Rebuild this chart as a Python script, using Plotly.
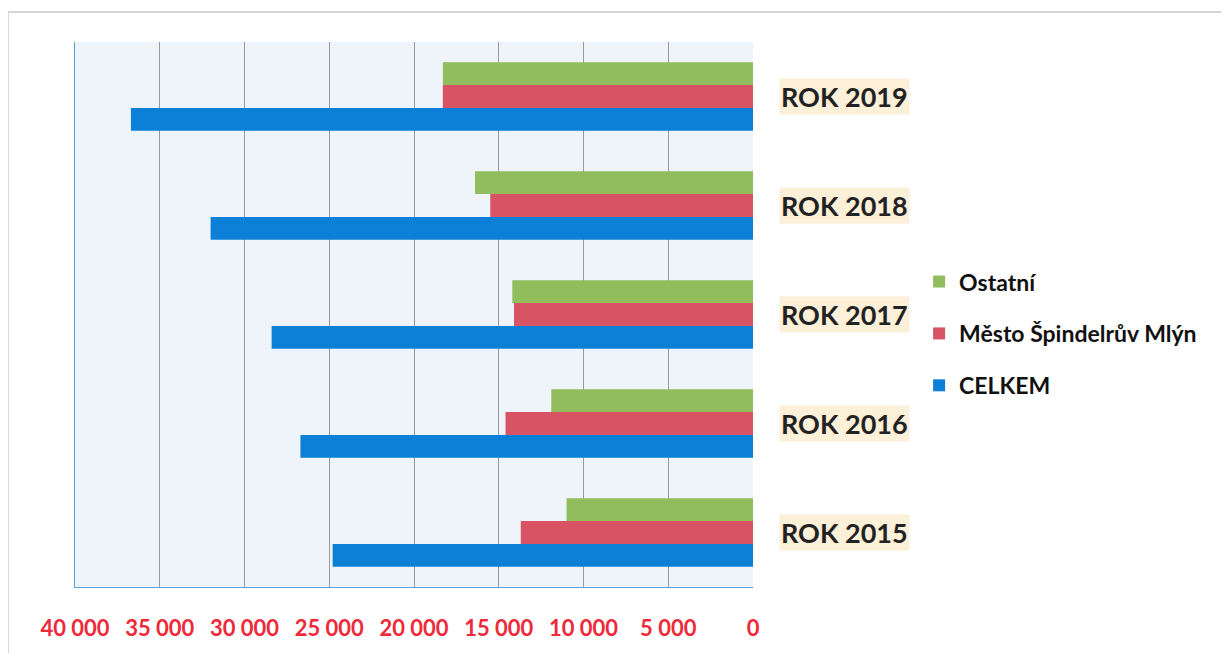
import plotly.graph_objects as go

categories = ["ROK 2015", "ROK 2016", "ROK 2017", "ROK 2018", "ROK 2019"]
celkem = [24800, 26700, 28400, 32000, 36700]
mesto = [13700, 14600, 14100, 15500, 18300]
ostatni = [11000, 11900, 14200, 16400, 18300]
tick_values = [0, 5000, 10000, 15000, 20000, 25000, 30000, 35000, 40000]

fig = go.Figure()
fig.add_trace(go.Bar(y=categories, x=celkem, orientation="h", name="CELKEM",
                     legendgroup="a", legendrank=3,
                     marker=dict(color="#0c80d6", line=dict(width=0))))
fig.add_trace(go.Bar(y=categories, x=mesto, orientation="h", name="Město Špindelrův Mlýn",
                     legendgroup="b", legendrank=2,
                     marker=dict(color="#d85363", line=dict(width=0))))
fig.add_trace(go.Bar(y=categories, x=ostatni, orientation="h", name="Ostatní",
                     legendgroup="c", legendrank=1,
                     marker=dict(color="#92bd5c", line=dict(width=0))))

annotations = []
for c in categories:
    annotations.append(dict(x=1, xref="paper", y=c, yref="y", text="<b>%s</b>" % c,
                            showarrow=False, xanchor="left", xshift=26,
                            font=dict(family="Lato", size=27, color="#222222"),
                            bgcolor="#fcf0d8", borderpad=1))

fig.update_layout(
    width=1221, height=645,
    margin=dict(l=67, r=476, t=34, b=66),
    paper_bgcolor="white",
    plot_bgcolor="#eef4fa",
    barmode="group",
    bargap=0.37,
    bargroupgap=0,
    separators=", ",
    showlegend=True,
    legend=dict(x=1.245, xanchor="left", y=0.465, yanchor="middle",
                traceorder="grouped",
                font=dict(family="Lato", size=23, color="#111111", weight="bold"),
                itemwidth=30, tracegroupgap=19, bgcolor="rgba(0,0,0,0)"),
    annotations=annotations,
    shapes=[dict(type="rect", xref="paper", yref="paper", x0=-0.099, x1=1.695,
                 y0=-0.25, y1=1.055, line=dict(color="#d4d4d4", width=2),
                 fillcolor="rgba(0,0,0,0)", layer="below")],
)
fig.update_xaxes(range=[40000, 0], tickvals=tick_values, tickformat=",d",
                 showgrid=True, gridcolor="#9a9a9a", gridwidth=1,
                 zeroline=False, showline=True, linecolor="#5aa0dc", linewidth=1,
                 ticks="", ticklabelstandoff=22,
                 tickfont=dict(family="Lato", size=22, color="#ee2a3a", weight="bold"))
fig.update_yaxes(showticklabels=False, showgrid=False, zeroline=False,
                 showline=True, linecolor="#5aa0dc", linewidth=1, mirror=False)

fig.write_html("out.html")
